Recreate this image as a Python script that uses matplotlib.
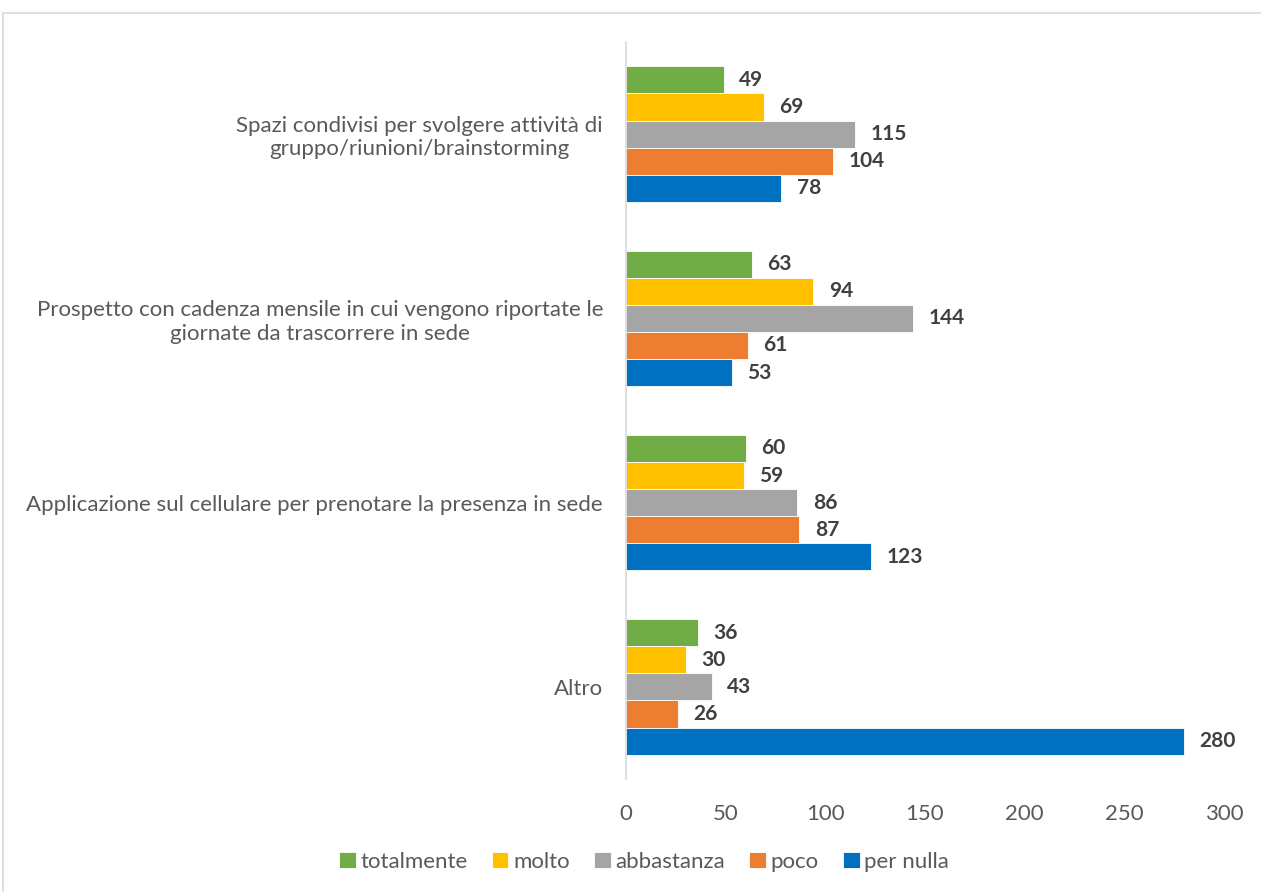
import matplotlib
matplotlib.use("Agg")
import matplotlib.pyplot as plt
from matplotlib.patches import Rectangle
import numpy as np

plt.rcParams['font.family'] = ['Lato', 'DejaVu Sans']

categories = [
    "Spazi condivisi per svolgere attività di\ngruppo/riunioni/brainstorming",
    "Prospetto con cadenza mensile in cui vengono riportate le\ngiornate da trascorrere in sede",
    "Applicazione sul cellulare per prenotare la presenza in sede",
    "Altro",
]
series_names = ["totalmente", "molto", "abbastanza", "poco", "per nulla"]
values = {
    "totalmente": [49, 63, 60, 36],
    "molto": [69, 94, 59, 30],
    "abbastanza": [115, 144, 86, 43],
    "poco": [104, 61, 87, 26],
    "per nulla": [78, 53, 123, 280],
}
colors = {
    "totalmente": "#70AD47",
    "molto": "#FFC000",
    "abbastanza": "#A5A5A5",
    "poco": "#ED7D31",
    "per nulla": "#0070C0",
}
x_ticks = [0, 50, 100, 150, 200, 250, 300]

W, H = 1261, 892
fig = plt.figure(figsize=(W / 100, H / 100), dpi=100)
fig.patches.append(Rectangle((3 / W, -0.01), 1.02, 1 - 13 / H + 0.01,
                             transform=fig.transFigure, fill=False,
                             edgecolor="#D9D9D9", linewidth=1.2))

ax = fig.add_axes([626 / W, 1 - 779 / H, (1224 - 626) / W, (779 - 42) / H])

n_cat = len(categories)
bar_h = 0.147
centers = np.arange(n_cat)[::-1].astype(float)  # first category on top
for i, name in enumerate(series_names):
    offs = (2 - i) * bar_h
    ys = centers + offs
    vals = values[name]
    ax.barh(ys, vals, height=bar_h, color=colors[name], label=name,
            edgecolor="white", linewidth=0.6)
    for y, v in zip(ys, vals):
        ax.annotate(str(v), (v, y), xytext=(11, 0), textcoords="offset points",
                    va="center", ha="left", fontsize=15,
                    fontweight="bold", color="#404040")

ax.set_xlim(0, 300)
ax.set_ylim(-0.5, n_cat - 0.5)
ax.set_xticks(x_ticks)
ax.set_xticklabels([str(t) for t in x_ticks], fontsize=16, color="#595959")
ax.tick_params(axis="x", length=0, pad=18)
ax.set_yticks(centers)
ax.set_yticklabels(categories, fontsize=16, color="#595959",
                   multialignment="center")
ax.tick_params(axis="y", length=0, pad=16.5)
for s in ["top", "right", "bottom"]:
    ax.spines[s].set_visible(False)
ax.spines["left"].set_color("#D9D9D9")
ax.spines["left"].set_linewidth(1.2)

handles, labels = ax.get_legend_handles_labels()
leg = fig.legend(handles, labels, loc="center", bbox_to_anchor=(644 / W, 1 - 862 / H),
                 ncol=5, frameon=False, fontsize=16, handlelength=0.75,
                 handleheight=0.75, handletextpad=0.2, columnspacing=1.1)
for t in leg.get_texts():
    t.set_color("#595959")

fig.savefig("out.png", dpi=100)
